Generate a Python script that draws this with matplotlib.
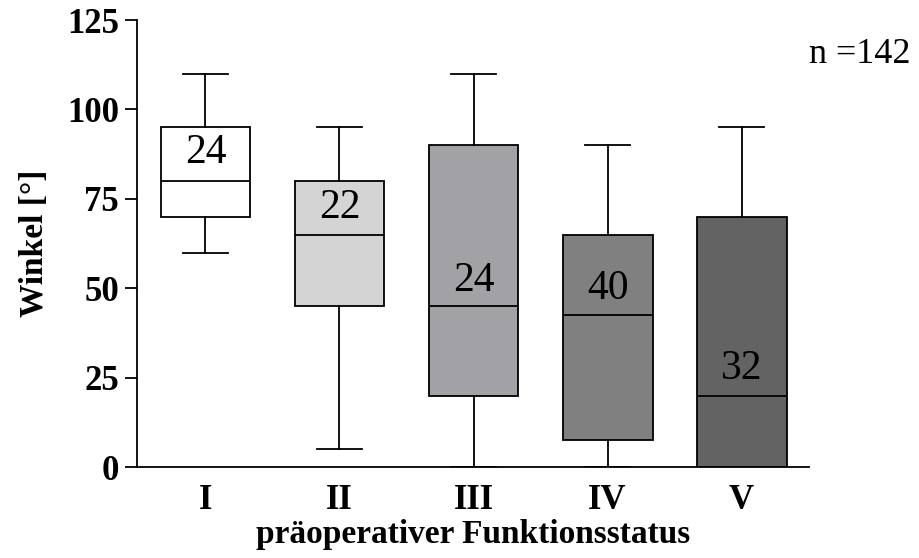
import numpy as np
import matplotlib.pyplot as plt

plt.rcParams['font.family'] = ['Liberation Serif', 'DejaVu Serif']

groups = ['I', 'II', 'III', 'IV', 'V']
whislo = [60, 5, 0, 0, 0]
q1 = [70, 45, 20, 7.5, 0]
med = [80, 65, 45, 42.5, 20]
q3 = [95, 80, 90, 65, 70]
whishi = [110, 95, 110, 90, 95]
counts = [24, 22, 24, 40, 32]
count_y = [88, 72.5, 52, 50, 27.5]
colors = ['#ffffff', '#d4d4d4', '#a2a1a5', '#808080', '#636363']
n_total = 142

stats = []
for i, g in enumerate(groups):
    stats.append(dict(label=g, whislo=whislo[i], q1=q1[i], med=med[i],
                      q3=q3[i], whishi=whishi[i], fliers=[]))

fig = plt.figure(figsize=(9.2, 5.58), dpi=100)
ax = fig.add_axes([0.149, 0.163, 0.730, 0.801])

lw = 1.3
pos = np.arange(1, len(groups) + 1)
bp = ax.bxp(stats, positions=pos, widths=0.67, patch_artist=True,
            showfliers=False, capwidths=0.34,
            boxprops=dict(linewidth=lw, edgecolor='black'),
            medianprops=dict(color='black', linewidth=lw),
            whiskerprops=dict(color='black', linewidth=lw),
            capprops=dict(color='black', linewidth=lw))
for patch, c in zip(bp['boxes'], colors):
    patch.set_facecolor(c)

for x, c, y in zip(pos, counts, count_y):
    ax.text(x, y, str(c), ha='center', va='center', fontsize=30)

ax.set_xlim(0.49, 5.5)
ax.set_ylim(0, 125)
ax.set_yticks([0, 25, 50, 75, 100, 125])
ax.spines['top'].set_visible(False)
ax.spines['right'].set_visible(False)
ax.spines['left'].set_linewidth(lw)
ax.spines['bottom'].set_linewidth(lw)
ax.tick_params(axis='y', length=9, width=lw, pad=4, labelsize=25)
ax.tick_params(axis='x', length=0, pad=12, labelsize=25)
for lab in ax.get_xticklabels() + ax.get_yticklabels():
    lab.set_fontweight('bold')

ax.set_ylabel('Winkel [°]', fontsize=24, fontweight='bold', labelpad=12)
ax.set_xlabel('präoperativer Funktionsstatus', fontsize=24,
              fontweight='bold', labelpad=2)

fig.text(0.879, 0.887, 'n =' + str(n_total), fontsize=26, ha='left',
         va='baseline')

fig.savefig('out.png', dpi=100)
